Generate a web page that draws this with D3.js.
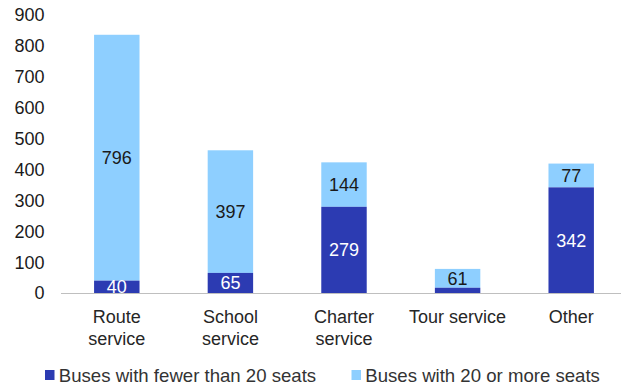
<!DOCTYPE html>
<html><head><meta charset="utf-8">
<script src="https://cdn.jsdelivr.net/npm/d3@7"></script>
<style>body{margin:0;background:#fff}svg{display:block;font-family:"Liberation Sans",Arial,sans-serif}</style>
</head><body><svg id="c" width="621" height="385"></svg>
<script>
const categories = [["Route","service"],["School","service"],["Charter","service"],["Tour service"],["Other"]];
const fewer = [40, 65, 279, 17, 342];
const more = [796, 397, 144, 61, 77];
const fewerLabels = ["40","65","279","","342"];
const moreLabels = ["796","397","144","61","77"];
const yTicks = [0,100,200,300,400,500,600,700,800,900];
const seriesNames = ["Buses with fewer than 20 seats","Buses with 20 or more seats"];
const colors = ["#2c3bb2","#8ecfff"];
const fs = 18;

const svg = d3.select("#c");
const x = d3.scaleBand().domain(d3.range(categories.length)).range([60,628]).paddingInner(0.6).paddingOuter(0.3);
const y = d3.scaleLinear().domain([0,900]).range([293,15]);

// y tick labels
svg.append("g").selectAll("text").data(yTicks).join("text")
  .attr("x",44.5).attr("y",d=>y(d)).attr("dy","0.36em").attr("text-anchor","end")
  .attr("font-size",fs).attr("fill","#1a1a1a").text(d=>d);

// bars
const g = svg.append("g");
categories.forEach((c,i)=>{
  const x0 = x(i), w = x.bandwidth();
  g.append("rect").attr("x",x0).attr("width",w).attr("y",y(fewer[i]+more[i])).attr("height",y(fewer[i])-y(fewer[i]+more[i])).attr("fill",colors[1]);
  g.append("rect").attr("x",x0).attr("width",w).attr("y",y(fewer[i])).attr("height",y(0)-y(fewer[i])).attr("fill",colors[0]);
  if (fewerLabels[i]) g.append("text").attr("x",x0+w/2).attr("y",y(fewer[i]/2)).attr("dy","0.36em").attr("text-anchor","middle").attr("font-size",fs).attr("fill","#fff").text(fewerLabels[i]);
  g.append("text").attr("x",x0+w/2).attr("y",y(fewer[i]+more[i]/2)).attr("dy","0.36em").attr("text-anchor","middle").attr("font-size",fs).attr("fill","#1a1a1a").text(moreLabels[i]);
  const t = g.append("text").attr("text-anchor","middle").attr("font-size",fs).attr("fill","#262626");
  c.forEach((line,j)=>t.append("tspan").attr("x",x0+w/2).attr("y",323.3+j*21.7).text(line));
});

// axis line
svg.append("line").attr("x1",61).attr("x2",621).attr("y1",y(0)+0.5).attr("y2",y(0)+0.5).attr("stroke","#bfbfbf").attr("stroke-width",1);

// legend
const leg = [{x:45,t:seriesNames[0],c:colors[0]},{x:351.5,t:seriesNames[1],c:colors[1]}];
leg.forEach(l=>{
  svg.append("rect").attr("x",l.x).attr("y",370).attr("width",9.5).attr("height",10).attr("fill",l.c);
  svg.append("text").attr("x",l.x+13.8).attr("y",381.5).attr("font-size",18.6).attr("fill","#333").text(l.t);
});
</script></body></html>
